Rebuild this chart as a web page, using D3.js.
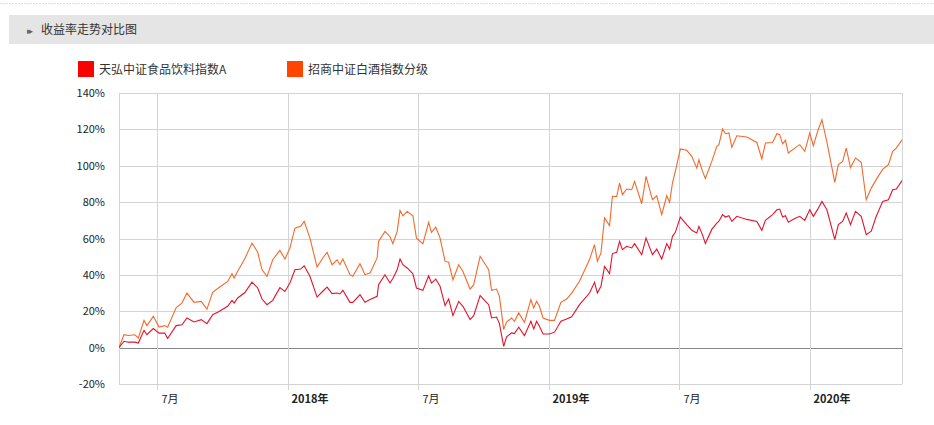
<!DOCTYPE html>
<html><head><meta charset="utf-8">
<script src="https://cdn.jsdelivr.net/npm/d3@7/dist/d3.min.js"></script>
<style>body{margin:0;background:#fff;font-family:"Noto Sans CJK SC","DejaVu Sans",sans-serif;}</style>
</head><body><svg id="c" width="934" height="425"></svg>
<script>
const seriesNames = ["天弘中证食品饮料指数A", "招商中证白酒指数分级"];
const seriesColors = ["#e3132b", "#f26a2c"];
const legendColors = ["#ff0000", "#ff4500"];
const dates = ["2017-05-09","2017-05-16","2017-05-22","2017-05-31","2017-06-05","2017-06-13","2017-06-17","2017-06-26","2017-07-04","2017-07-12","2017-07-16","2017-07-28","2017-08-05","2017-08-12","2017-08-22","2017-09-01","2017-09-09","2017-09-17","2017-09-24","2017-10-08","2017-10-14","2017-10-17","2017-10-22","2017-11-01","2017-11-11","2017-11-19","2017-11-25","2017-12-02","2017-12-10","2017-12-20","2017-12-27","2018-01-03","2018-01-10","2018-01-18","2018-01-23","2018-01-31","2018-02-10","2018-02-18","2018-02-24","2018-03-03","2018-03-10","2018-03-14","2018-03-18","2018-03-28","2018-04-01","2018-04-11","2018-04-18","2018-04-25","2018-05-05","2018-05-07","2018-05-16","2018-05-23","2018-05-27","2018-06-02","2018-06-06","2018-06-10","2018-06-16","2018-06-24","2018-06-29","2018-07-08","2018-07-16","2018-07-20","2018-07-26","2018-08-01","2018-08-08","2018-08-13","2018-08-19","2018-08-27","2018-09-02","2018-09-12","2018-09-17","2018-09-26","2018-10-08","2018-10-12","2018-10-19","2018-10-23","2018-10-29","2018-11-02","2018-11-09","2018-11-13","2018-11-19","2018-11-27","2018-12-06","2018-12-10","2018-12-14","2018-12-18","2018-12-23","2019-01-01","2019-01-08","2019-01-17","2019-01-25","2019-02-01","2019-02-12","2019-02-26","2019-03-05","2019-03-09","2019-03-14","2019-03-19","2019-03-26","2019-03-30","2019-04-05","2019-04-09","2019-04-13","2019-04-19","2019-04-26","2019-04-30","2019-05-10","2019-05-16","2019-05-25","2019-05-31","2019-06-07","2019-06-14","2019-06-18","2019-06-22","2019-06-26","2019-07-03","2019-07-12","2019-07-19","2019-07-26","2019-07-29","2019-08-03","2019-08-07","2019-08-16","2019-08-23","2019-08-26","2019-08-31","2019-09-04","2019-09-09","2019-09-13","2019-09-20","2019-10-04","2019-10-18","2019-10-25","2019-10-30","2019-11-09","2019-11-15","2019-11-19","2019-11-23","2019-11-27","2019-12-01","2019-12-10","2019-12-17","2019-12-24","2019-12-31","2020-01-05","2020-01-11","2020-01-17","2020-01-24","2020-02-04","2020-02-09","2020-02-15","2020-02-20","2020-02-26","2020-03-04","2020-03-12","2020-03-19","2020-03-26","2020-04-02","2020-04-11","2020-04-19","2020-04-25","2020-04-30","2020-05-09"];
const redValues = [0,3.5,3,3,2.5,9.5,7.1,10.5,8,8,5,12.1,12.6,16.3,14.1,15.4,13.2,18.1,19.5,22.7,26,24.5,27.3,30.3,36,32.8,26.7,23.6,26,33,30.9,35.5,42.8,43.2,45,39.2,27.8,31,33.3,29.7,30,29.5,31.5,24.9,24.9,29.1,24.9,26.5,28.2,34.6,40.1,35.5,38,42.8,48.7,45.6,43.8,40.6,32.8,31.5,39.5,35.5,37.7,33.7,23.1,26.7,17.6,25.4,22.7,15.4,17.6,28.6,23.6,16.3,16.8,13.2,0.7,5.9,8.1,7.7,11.2,6.6,14.5,10.3,14.5,11.7,7.5,7.5,8.5,14.5,15.8,17,23.6,30,35.9,30,33.7,44.7,40.7,51.7,52.4,58.4,53.9,55.7,54.8,57.2,51.1,60.3,51.1,54.2,48.7,57.2,54.2,61.2,63.4,71.8,67.6,64.5,63,66.7,62,57.2,65,68.5,69.5,73.1,71.8,72.5,69.4,72.2,70.5,69.4,64.5,70,73.1,75.8,76.2,71.8,72.5,68.9,71,72.2,70,75.8,72.2,76,80.4,75.8,59.4,67.6,69.4,74,67.6,74.9,72.2,62.1,64,72.2,80.4,81.3,86.8,87.2,92.3];
const orangeValues = [0,7.1,6.7,7.1,5.3,15,12.1,17.2,11.3,12.1,11.2,22,24.5,30,24.9,25.4,21.2,30.4,32.5,36.4,40.6,38.3,42,49,57.5,52.4,42.8,39.2,48.3,53.5,48.7,54.7,65.7,66.7,69.4,60.2,44.3,49.3,52.4,45.6,48.3,45.6,48.7,40.1,39.2,46.1,40.1,41,49.3,58.4,63.9,61,57.1,63.9,75.4,72.5,74.9,72.5,60.2,57.1,68.9,63.4,66.3,60.2,47.4,46.9,37.3,45.6,41.9,32.2,34.6,50.2,42.8,31.5,32.2,28.2,9.9,14,16.3,14.5,19.1,13.9,26.4,21.8,25.5,22.7,16.3,15,15,24.9,26.7,30,36.5,48.4,56.6,47.4,52,71.3,67.1,83.2,83,90.5,84.1,87.2,86.8,91.4,79.1,94.2,81.3,83.5,73.1,83.5,79.9,90.5,96.9,109.2,108.5,105.2,98.7,103.3,96.9,93,102.4,110.7,111.6,120.2,117.6,118,110.1,116.5,115.8,112.8,103.7,112.5,112.8,117.6,117.1,112,114,107,109.7,111.6,107.9,118,111,118.9,125.3,113,90.9,100.6,102.4,109.7,99,104.2,101.9,81.3,87.7,92.5,98,100.6,107.9,109.7,114.7];
const yTicks = [-20,0,20,40,60,80,100,120,140];
const xTickDates = ["2017-07-01","2018-01-01","2018-07-01","2019-01-01","2019-07-01","2020-01-01"];
const xTickLabels = ["7月","2018年","7月","2019年","7月","2020年"];
const xTickBold = [false,true,false,true,false,true];
const titleText = "收益率走势对比图";

const svg = d3.select("#c");
const parse = d3.timeParse("%Y-%m-%d");
const L=119,R=902,T=93,B=384;
// header
svg.append("line").attr("x1",0).attr("x2",934).attr("y1",3.5).attr("y2",3.5).attr("stroke","#ddd").attr("stroke-dasharray","2,1");
svg.append("rect").attr("x",9).attr("y",15).attr("width",925).attr("height",29).attr("fill","#e5e5e5");
svg.append("text").attr("x",27).attr("y",33.5).attr("font-size",9).attr("fill","#666").text("▸▸").attr("letter-spacing",-3);
svg.append("text").attr("x",41).attr("y",34).attr("font-size",12).attr("fill","#333").text(titleText);
// legend
const lx=[78,287];
seriesNames.forEach((n,i)=>{
  svg.append("rect").attr("x",lx[i]).attr("y",61).attr("width",16).attr("height",16).attr("fill",legendColors[i]);
  svg.append("text").attr("x",lx[i]+21).attr("y",74).attr("font-size",12).attr("fill","#333").text(n);
});
const x = d3.scaleTime().domain([parse(dates[0]), parse("2020-05-08")]).range([L,R]);
const y = d3.scaleLinear().domain([-20,140]).range([B,T]);
const g = svg.append("g");
yTicks.forEach(t=>{
  g.append("line").attr("x1",L).attr("x2",R).attr("y1",Math.round(y(t))+0.5).attr("y2",Math.round(y(t))+0.5)
   .attr("stroke",t===0?"#888":"#d4d4d4");
  g.append("text").attr("x",105).attr("y",y(t)+4).attr("text-anchor","end").attr("font-size",11).attr("fill","#222").text(t+"%");
});
[L,R].forEach(v=>g.append("line").attr("x1",v+0.5).attr("x2",v+0.5).attr("y1",T).attr("y2",B).attr("stroke","#d4d4d4"));
xTickDates.forEach((d,i)=>{
  const xv=Math.round(x(parse(d)))+0.5;
  g.append("line").attr("x1",xv).attr("x2",xv).attr("y1",T).attr("y2",B+6).attr("stroke","#d4d4d4");
  g.append("text").attr("x",xv+(xTickBold[i]?3:4)).attr("y",403).attr("font-size",11).attr("font-weight",xTickBold[i]?"bold":"normal").attr("fill","#222").text(xTickLabels[i]);
});
svg.append("clipPath").attr("id","cp").append("rect").attr("x",L).attr("y",T-10).attr("width",R-L).attr("height",B-T+20);
const line = d3.line().x(d=>x(d[0])).y(d=>y(d[1]));
[orangeValues, redValues].forEach((vals,k)=>{
  const idx = k===0?1:0;
  svg.append("path").attr("clip-path","url(#cp)").datum(dates.map((d,i)=>[parse(d),vals[i]]))
    .attr("d",line).attr("fill","none").attr("stroke",seriesColors[idx]).attr("stroke-width",1.1);
});
</script></body></html>
